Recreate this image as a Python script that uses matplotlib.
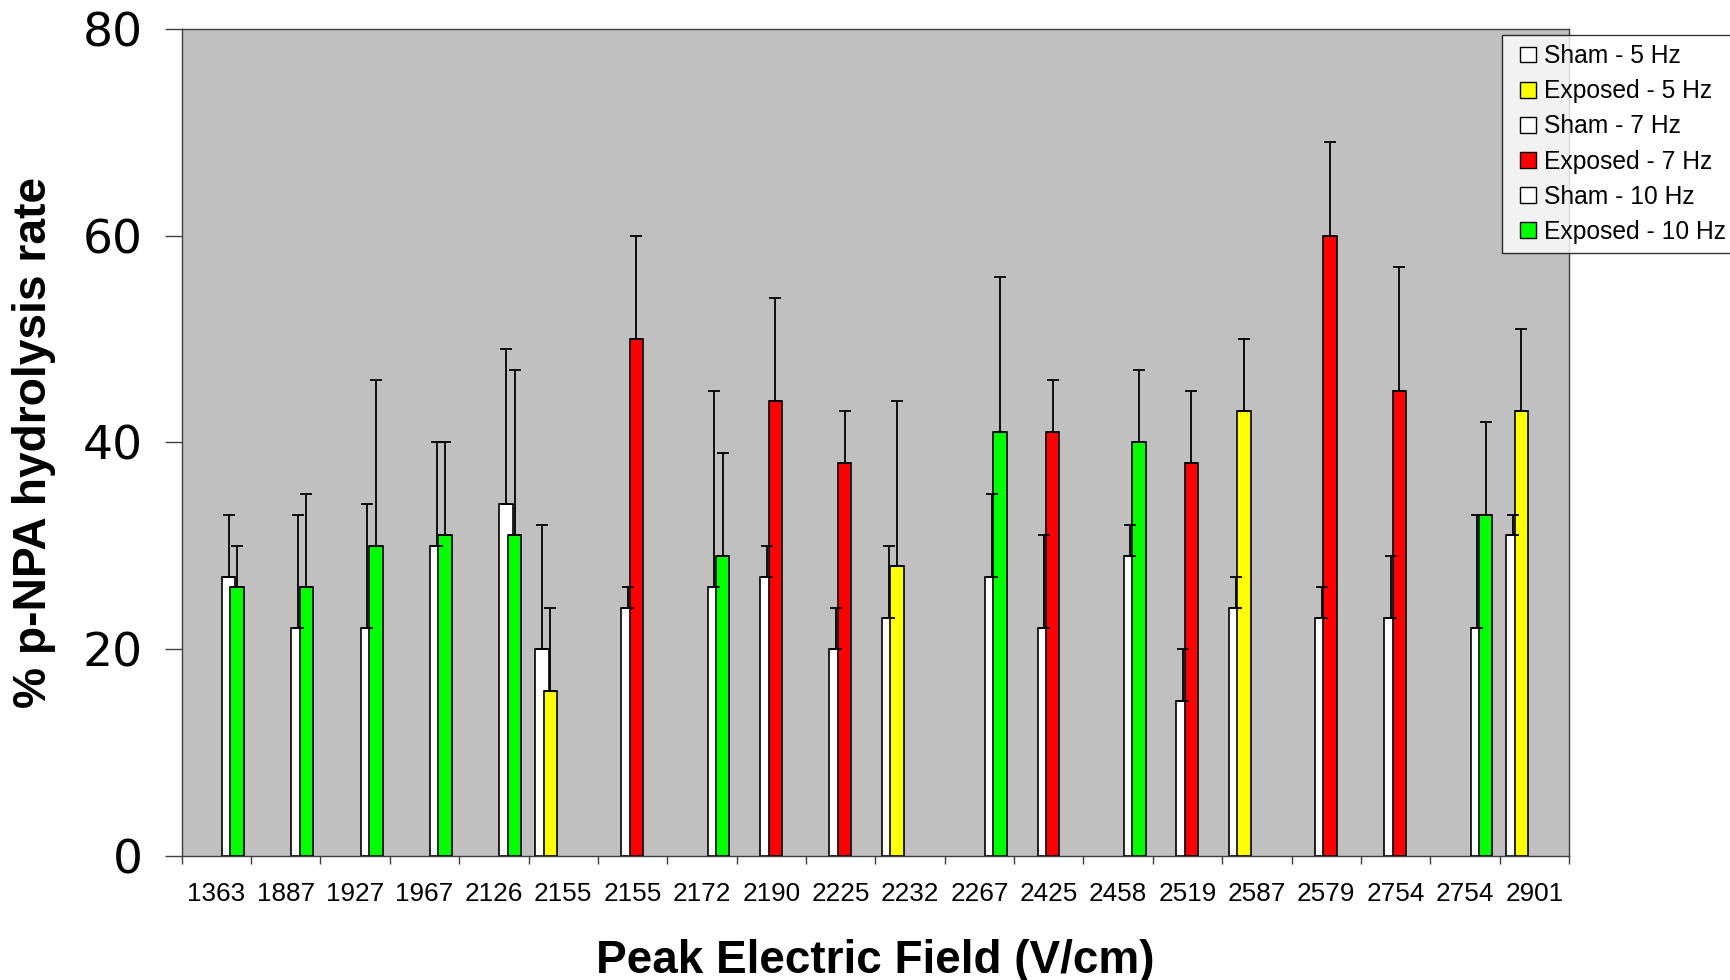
import numpy as np
import matplotlib
matplotlib.use("Agg")
import matplotlib.pyplot as plt
from matplotlib.patches import Patch, Rectangle
from matplotlib.legend_handler import HandlerPatch

# Peak electric field of each run (category labels) and the stimulation frequency used
field_labels = ["1363", "1887", "1927", "1967", "2126", "2155", "2155", "2172", "2190", "2225",
                "2232", "2267", "2425", "2458", "2519", "2587", "2579", "2754", "2754", "2901"]
frequency_hz = [10, 10, 10, 10, 10, 5, 7, 10, 7, 7, 5, 10, 7, 10, 7, 5, 7, 7, 10, 5]

# % p-NPA hydrolysis rate and upper error for sham and exposed samples
sham = [27, 22, 22, 30, 34, 20, 24, 26, 27, 20, 23, 27, 22, 29, 15, 24, 23, 23, 22, 31]
sham_err = [6, 11, 12, 10, 15, 12, 2, 19, 3, 4, 7, 8, 9, 3, 5, 3, 3, 6, 11, 2]
exposed = [26, 26, 30, 31, 31, 16, 50, 29, 44, 38, 28, 41, 41, 40, 38, 43, 60, 45, 33, 43]
exposed_err = [4, 9, 16, 9, 16, 8, 10, 10, 10, 5, 16, 15, 5, 7, 7, 7, 9, 12, 9, 8]

series_names = ["Sham - 5 Hz", "Exposed - 5 Hz", "Sham - 7 Hz",
                "Exposed - 7 Hz", "Sham - 10 Hz", "Exposed - 10 Hz"]
series_colors = ["#FFFFFF", "#FFFF00", "#FFFFFF", "#FF0000", "#FFFFFF", "#00FF00"]
freq_slot = {5: 0, 7: 2, 10: 4}

n_cat = len(field_labels)
values = np.full((6, n_cat), np.nan)
errors = np.full((6, n_cat), np.nan)
for i, f in enumerate(frequency_hz):
    s = freq_slot[f]
    values[s, i], errors[s, i] = sham[i], sham_err[i]
    values[s + 1, i], errors[s + 1, i] = exposed[i], exposed_err[i]

W, H = 1730, 980
fig = plt.figure(figsize=(W / 100, H / 100), dpi=100)
ax_l, ax_r, ax_t, ax_b = 181.7, 1569.0, 28.7, 856.0
ax = fig.add_axes([ax_l / W, (H - ax_b) / H, (ax_r - ax_l) / W, (ax_b - ax_t) / H])
ax.set_facecolor("#C0C0C0")

x = np.arange(n_cat)
bar_w = 0.193
step = 0.1212
first_left = -0.5 + 0.096

for s in range(6):
    lefts = x + first_left + s * step
    ax.bar(lefts, values[s], width=bar_w, align="edge", color=series_colors[s],
           edgecolor="black", linewidth=1.2, zorder=2 + s)

for s in range(6):
    centers = x + first_left + s * step + bar_w / 2
    err = errors[s]
    ax.errorbar(centers, values[s], yerr=[np.zeros(n_cat), err], fmt="none",
                ecolor="black", elinewidth=1.3, capsize=4.4, capthick=1.3, zorder=10)

ax.set_xlim(-0.5, n_cat - 0.5)
ax.set_ylim(0, 80)

for sp in ax.spines.values():
    sp.set_color("#404040")
    sp.set_linewidth(1.0)

ax.set_yticks([0, 20, 40, 60, 80])
ax.tick_params(axis="y", direction="out", length=12.2, width=1.0, color="#404040",
               pad=16, labelsize=34)
for t in ax.get_yticklabels():
    t.set_family("DejaVu Sans")

ax.set_xticks(x)
ax.set_xticklabels(field_labels, family="Liberation Sans", fontsize=18.8)
ax.tick_params(axis="x", which="major", length=0, pad=18.5)
ax.set_xticks(np.arange(-0.5, n_cat, 1.0), minor=True)
ax.tick_params(axis="x", which="minor", direction="out", length=5.8, width=1.0,
               color="#404040")

ax.set_xlabel("Peak Electric Field (V/cm)", family="Liberation Sans", fontweight="bold",
              fontsize=33, va="center")
ax.xaxis.set_label_coords(0.5, -0.1267)
ax.set_ylabel("% p-NPA hydrolysis rate", family="Liberation Sans", fontweight="bold",
              fontsize=33.2, va="center")
ax.yaxis.set_label_coords(-0.1065, 0.5)


def square_key(legend, orig_handle, xdescent, ydescent, width, height, fontsize):
    # small square key sitting at the right end of the handle box
    side = height
    return Rectangle((-xdescent + width - side, -ydescent), side, side)


handles = [Patch(facecolor=c, edgecolor="black", linewidth=1.0) for c in series_colors]
leg = fig.legend(handles, series_names, loc="upper left",
                 bbox_to_anchor=(1502 / W, 1 - 35 / H), frameon=True, fancybox=False,
                 shadow=False, prop={"family": "Liberation Sans", "size": 17.7},
                 handlelength=1.0, handleheight=0.6, handletextpad=0.33,
                 labelspacing=0.45, borderpad=0.38, borderaxespad=0,
                 handler_map={Patch: HandlerPatch(patch_func=square_key)})
leg.get_frame().set_edgecolor("black")
leg.get_frame().set_linewidth(1.0)
leg.get_frame().set_facecolor("white")
leg.set_zorder(20)

fig.savefig("out.png", dpi=100)
